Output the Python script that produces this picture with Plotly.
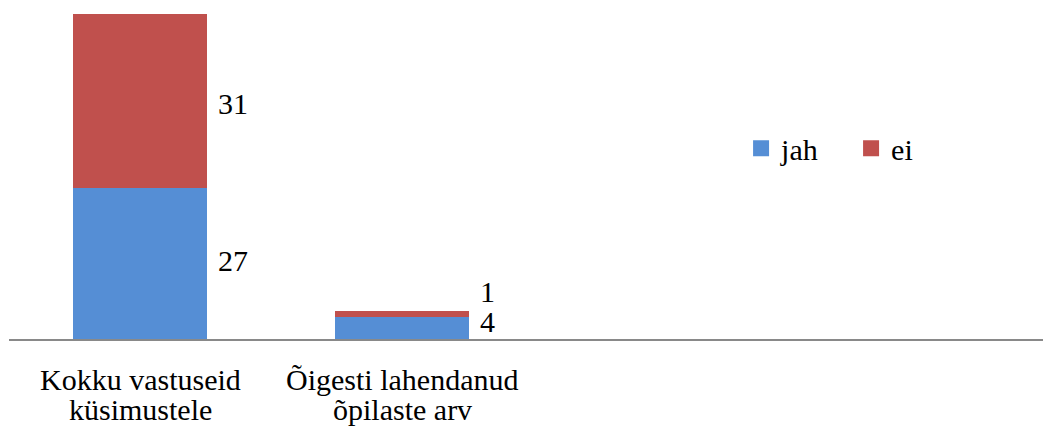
import plotly.graph_objects as go

categories = ["Kokku vastuseid\nküsimustele", "Õigesti lahendanud\nõpilaste arv"]
series_names = ["jah", "ei"]
jah_values = [27, 4]
ei_values = [31, 1]

colors = {"jah": "#558ED5", "ei": "#C0504D"}
FONT = "Liberation Serif"

x_idx = list(range(len(categories)))

fig = go.Figure()
for name, vals in zip(series_names, [jah_values, ei_values]):
    fig.add_trace(go.Bar(
        x=x_idx, y=vals, name=name, width=0.512, showlegend=False,
        marker=dict(color=colors[name], line=dict(width=0)),
    ))
# legend entries with larger square symbols
for name in series_names:
    fig.add_trace(go.Scatter(
        x=[None], y=[None], mode="markers", name=name, showlegend=True,
        marker=dict(symbol="square", size=16, color=colors[name], line=dict(width=0)),
    ))

# data labels placed to the right of each segment
label_yshift = {("jah", 0): 3, ("ei", 0): -2, ("jah", 1): 6, ("ei", 1): 22}
annotations = []
for i in x_idx:
    base = 0
    for name, vals in zip(series_names, [jah_values, ei_values]):
        v = vals[i]
        annotations.append(dict(
            x=i, y=base + v / 2, xref="x", yref="y", text=str(v), showarrow=False,
            xanchor="left", yanchor="middle", xshift=76, yshift=label_yshift[(name, i)],
            font=dict(family=FONT, size=30, color="#000000"),
        ))
        base += v

# category labels (two lines each)
for i, cat in enumerate(categories):
    for j, line in enumerate(cat.split("\n")):
        annotations.append(dict(
            x=i, y=0, xref="x", yref="y", text=line, showarrow=False,
            xanchor="center", yanchor="middle", yshift=-40 - 30 * j,
            font=dict(family=FONT, size=30, color="#000000"),
        ))

fig.update_layout(
    barmode="stack",
    width=1043, height=429,
    margin=dict(l=9, r=0, t=0, b=90, pad=0),
    paper_bgcolor="white", plot_bgcolor="white",
    showlegend=True,
    legend=dict(orientation="h", x=0.708, y=0.563, xanchor="left", yanchor="middle",
                traceorder="normal",
                font=dict(family=FONT, size=30, color="#000000"),
                entrywidth=65, itemwidth=30, bgcolor="rgba(0,0,0,0)"),
    xaxis=dict(range=[-0.5, -0.5 + 1034 / 262], showticklabels=False, ticks="",
               showgrid=False, zeroline=False, showline=True, linecolor="#898989",
               linewidth=2, fixedrange=True),
    yaxis=dict(range=[0, 339 / 5.595], visible=False, showgrid=False, zeroline=False),
    annotations=annotations,
)

fig.write_html("out.html", config={"displayModeBar": False},
               post_script="document.body.style.margin='0';document.body.style.overflow='hidden';")
